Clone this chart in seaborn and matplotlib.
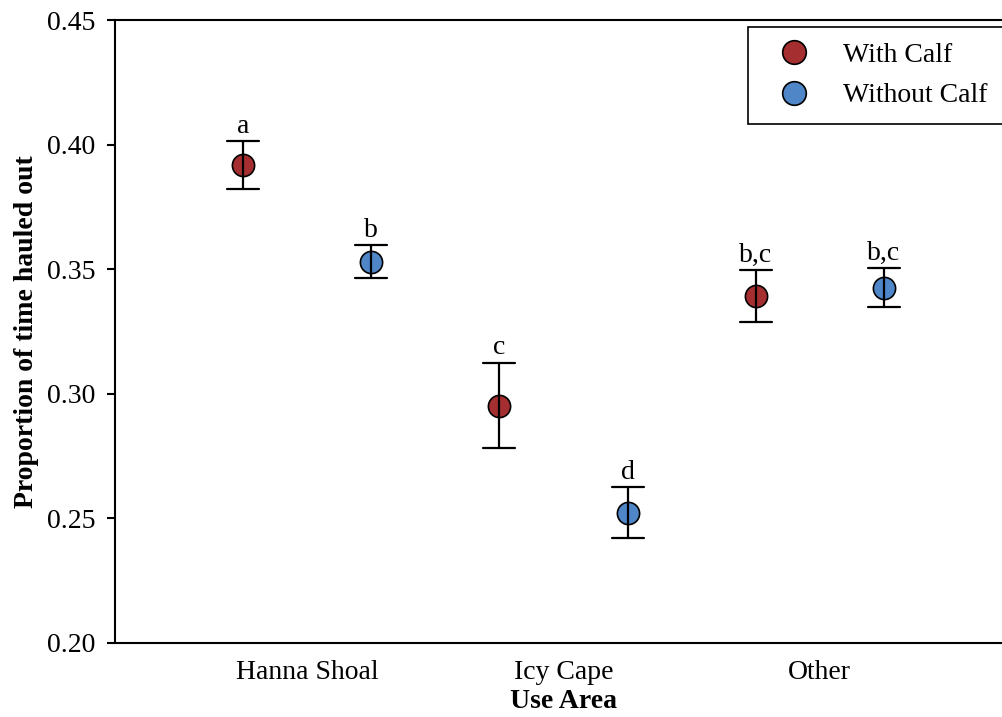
import numpy as np
import pandas as pd
import seaborn as sns
import matplotlib
matplotlib.use("Agg")
import matplotlib.pyplot as plt

# values (mean +/- SE)
areas = ["Hanna Shoal", "Icy Cape", "Other"]
groups = ["With Calf", "Without Calf"]
with_calf_mean = [0.3917, 0.2953, 0.3392]
with_calf_se = [0.0096, 0.0172, 0.0104]
without_calf_mean = [0.3530, 0.2523, 0.3426]
without_calf_se = [0.0066, 0.0102, 0.0077]
with_calf_letters = ["a", "c", "b,c"]
without_calf_letters = ["b", "d", "b,c"]

palette = {"With Calf": "#a52f30", "Without Calf": "#4f86c8"}

# two rows per cell (mean - se, mean + se): mean gives the point, min/max the bar
rows = []
for grp, means, ses in [("With Calf", with_calf_mean, with_calf_se),
                        ("Without Calf", without_calf_mean, without_calf_se)]:
    for area, m, s in zip(areas, means, ses):
        rows.append({"area": area, "group": grp, "value": m - s})
        rows.append({"area": area, "group": grp, "value": m + s})
df = pd.DataFrame(rows)

sns.set_theme(style="ticks")
plt.rcParams["font.family"] = ["Liberation Serif", "DejaVu Serif"]
plt.rcParams["text.color"] = "black"
plt.rcParams["axes.labelcolor"] = "black"

fig = plt.figure(figsize=(10.03, 7.17), dpi=100)
ax = fig.add_axes([115 / 1003, 74 / 717, 897 / 1003, 623 / 717])

sns.pointplot(
    data=df, x="area", y="value", hue="group", order=areas, hue_order=groups,
    palette=palette, estimator="mean", errorbar=lambda v: (v.min(), v.max()),
    dodge=0.5, linestyles="none", markers="o", capsize=0.125,
    markersize=16, markeredgewidth=1.2, markeredgecolor="black",
    err_kws={"color": "black", "linewidth": 1.6}, ax=ax,
)

# significance letters above each error bar
offsets = {"With Calf": -0.25, "Without Calf": 0.25}
for grp, means, ses, letters in [("With Calf", with_calf_mean, with_calf_se, with_calf_letters),
                                 ("Without Calf", without_calf_mean, without_calf_se, without_calf_letters)]:
    for i, (m, s, lab) in enumerate(zip(means, ses, letters)):
        ax.annotate(lab, (i + offsets[grp], m + s), xytext=(0, 6),
                    textcoords="offset points", ha="center", va="baseline",
                    fontsize=20, color="black")

ax.set_xlim(-0.75, 2.75)
ax.set_ylim(0.20, 0.45)
ax.set_yticks(np.arange(0.20, 0.451, 0.05))
ax.set_yticklabels([f"{t:.2f}" for t in np.arange(0.20, 0.451, 0.05)])
ax.tick_params(axis="y", direction="out", length=6, width=1.5, labelsize=20, pad=8, colors="black")
ax.tick_params(axis="x", length=0, labelsize=20, pad=12, colors="black")

for side in ["left", "bottom", "top", "right"]:
    ax.spines[side].set_visible(True)
    ax.spines[side].set_linewidth(1.5)
    ax.spines[side].set_color("black")

ax.set_xlabel("Use Area", fontsize=20, fontweight="bold", labelpad=3, color="black")
ax.set_ylabel("Proportion of time hauled out", fontsize=20, fontweight="bold", labelpad=6, color="black")

handles = ax.get_legend().legend_handles
for h in handles:
    h.set_markersize(17)
leg = ax.legend(handles, groups, loc="upper left", bbox_to_anchor=(0.706, 0.989),
                frameon=True, fancybox=False, edgecolor="black", framealpha=1,
                fontsize=20, borderpad=0.55, handletextpad=0.67, labelspacing=0.55,
                handlelength=2.2, borderaxespad=0)
leg.get_frame().set_linewidth(1.2)
for t in leg.get_texts():
    t.set_color("black")

fig.savefig("out.png", dpi=100)
